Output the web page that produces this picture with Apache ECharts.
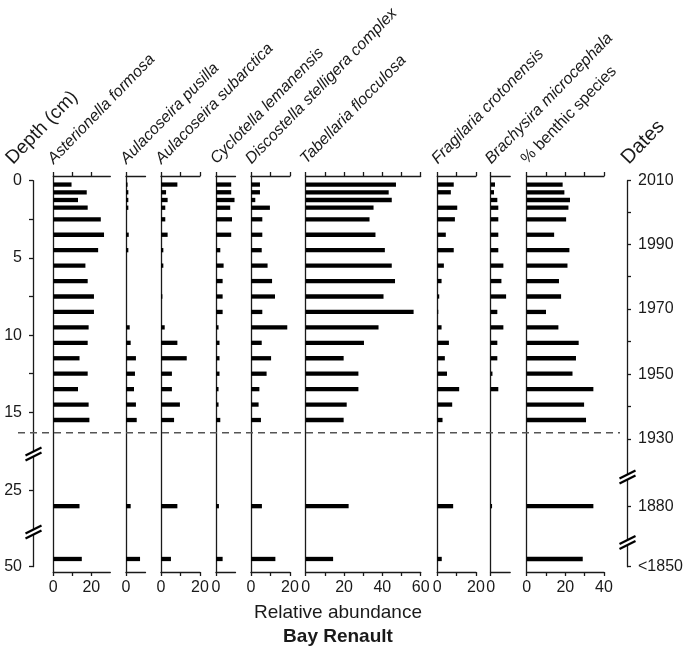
<!DOCTYPE html>
<html>
<head>
<meta charset="utf-8">
<script src="https://cdn.jsdelivr.net/npm/echarts@6/dist/echarts.min.js"></script>
<style>
  html, body { margin: 0; padding: 0; background: #fff; }
  #chart { width: 689px; height: 650px; }
</style>
</head>
<body>
<div id="chart"></div>
<script>
// sample depths (cm)
var depths = [0.25, 0.75, 1.25, 1.75, 2.5, 3.5, 4.5, 5.5, 6.5, 7.5, 8.5, 9.5, 10.5, 11.5, 12.5, 13.5, 14.5, 15.5, 26, 49.5];

// relative abundances (%)
var asterionella = [9.6, 17.6, 13, 18.1, 25, 26.7, 23.6, 16.9, 18.1, 21.4, 21.4, 18.6, 18.1, 13.8, 18.1, 13, 18.6, 19, 13.8, 15];
var pusilla = [0.8, 1.2, 1.2, 1.2, 0, 1.4, 1.2, 0, 0, 0, 0, 1.9, 2.4, 5.1, 4.6, 4.1, 5.1, 5.5, 2.4, 7.2];
var subarctica = [8.4, 2.6, 3.4, 2.2, 2.2, 3.4, 1.2, 1.2, 0, 0.7, 0, 1.9, 8.4, 13.2, 5.6, 5.6, 9.7, 6.7, 8.4, 5.1];
var cyclotella = [7.8, 7.8, 9.5, 7.3, 8.2, 7.8, 2.2, 3.9, 3.4, 3.4, 3.4, 1.3, 1.8, 1.8, 1.8, 1.3, 1.3, 2.2, 1.5, 3.4];
var discostella = [4.6, 4.6, 2.2, 9.7, 5.8, 5.8, 5.5, 8.5, 10.8, 12.3, 5.8, 18.6, 5.5, 10.3, 8.0, 4.3, 3.9, 5.1, 5.6, 12.5];
var tabellaria = [47.1, 43.3, 44.9, 35.4, 33.3, 36.4, 41.3, 44.9, 46.6, 40.6, 56.3, 38.0, 30.4, 19.8, 27.5, 27.5, 21.4, 19.8, 22.4, 14.3];
var fragilaria = [8.5, 7.0, 0, 10.3, 9.1, 4.4, 8.5, 3.4, 2.2, 1.0, 0.5, 2.2, 6.0, 3.9, 5.0, 11.3, 7.7, 2.7, 8.2, 2.3];
var brachysira = [2.2, 1.7, 3.4, 3.9, 3.9, 3.9, 3.9, 6.5, 5.5, 7.9, 3.4, 6.5, 3.4, 3.4, 0.9, 3.9, 0, 0, 0.7, 0];
var benthic = [18.6, 19.5, 22.4, 21.6, 20.4, 14.2, 22.1, 21.1, 16.7, 17.8, 10.0, 16.4, 26.9, 25.5, 23.7, 34.5, 29.7, 30.7, 34.5, 29.0];

// depth axis
var depthTicks = [0, 2.5, 5, 7.5, 10, 12.5, 15, 25, 50];
var depthLabels = [0, 5, 10, 15, 25, 50];

// dates axis
var dateNames = ['2010', '2000', '1990', '1980', '1970', '1960', '1950', '1940', '1930', '1880', '<1850'];
var dateDepths = [0, 2.05, 4.12, 6.22, 8.31, 10.43, 12.54, 14.64, 16.73, 26, 50];
var dateShown = ['2010', '1990', '1970', '1950', '1930', '1880', '<1850'];

// broken depth axis: plotted position
function plotPos(d) {
  if (d <= 17) return d;
  if (d < 40) return d - 4.92;
  return d - 25;
}
function depthAt(p) {
  if (p <= 17) return p;
  if (p <= 22.9) return p + 4.92;
  return p + 25;
}

var panels = [
  { name: 'Asterionella formosa', data: asterionella, max: 30, ticks: [0, 10, 20], labels: [0, 20], left: 53.3, width: 57, italic: true },
  { name: 'Aulacoseira pusilla', data: pusilla, max: 10, ticks: [0], labels: [0], left: 126, width: 19.5, italic: true },
  { name: 'Aulacoseira subarctica', data: subarctica, max: 20, ticks: [0, 10, 20], labels: [0, 20], left: 161, width: 39, italic: true },
  { name: 'Cyclotella lemanensis', data: cyclotella, max: 10, ticks: [0], labels: [0], left: 216, width: 19.5, italic: true },
  { name: 'Discostella stelligera complex', data: discostella, max: 20, ticks: [0, 10, 20], labels: [0, 20], left: 251, width: 39, italic: true },
  { name: 'Tabellaria flocculosa', data: tabellaria, max: 60, ticks: [0, 10, 20, 30, 40, 50, 60], labels: [0, 20, 40, 60], left: 305.7, width: 115, italic: true },
  { name: 'Fragilaria crotonensis', data: fragilaria, max: 20, ticks: [0, 10, 20], labels: [0, 20], left: 437.3, width: 38.7, italic: true },
  { name: 'Brachysira microcephala', data: brachysira, max: 10, ticks: [0], labels: [0], left: 490.7, width: 19.5, italic: true },
  { name: '% benthic species', data: benthic, max: 40, ticks: [0, 10, 20, 30, 40], labels: [0, 20, 40], left: 526.7, width: 77.3, italic: false }
];

var INK = '#1a1a1a';
var FONT = 'Liberation Sans, Arial, sans-serif';
var Y0 = 180.7, S = 15.44;            // pixel of depth 0, px per cm
var TOP = 176, BOT = 572;             // panel frame
var BAR_H = 4.3;
var ROT = 0.8;

var chart = echarts.init(document.getElementById('chart'));

var grids = [], xAxes = [], yAxes = [], series = [], graphics = [];
var lineStyle = { color: INK, width: 1.3 };

panels.forEach(function (p, i) {
  grids.push({ left: p.left, width: p.width, top: TOP, height: BOT - TOP });
  xAxes.push({
    gridIndex: i, type: 'value', min: 0, max: p.max, position: 'bottom',
    axisLine: { show: true, onZero: false, lineStyle: lineStyle },
    axisTick: { show: true, length: 4, customValues: p.ticks, lineStyle: lineStyle },
    axisLabel: { customValues: p.labels, fontSize: 16, fontFamily: FONT, color: INK, margin: 8 },
    splitLine: { show: false }
  });
  xAxes.push({
    gridIndex: i, type: 'value', min: 0, max: p.max, position: 'top',
    axisLine: { show: true, onZero: false, lineStyle: lineStyle },
    axisTick: { show: true, length: 4, customValues: p.ticks, lineStyle: lineStyle },
    axisLabel: { show: false },
    splitLine: { show: false }
  });
  yAxes.push({
    gridIndex: i, type: 'value', inverse: true,
    min: (TOP - Y0) / S, max: (BOT - Y0) / S,
    axisLine: { show: true, onZero: false, lineStyle: lineStyle },
    axisTick: { show: false }, axisLabel: { show: false }, splitLine: { show: false }
  });
  series.push({
    type: 'custom', xAxisIndex: 2 * i, yAxisIndex: i, silent: true,
    data: depths.map(function (d, j) { return [p.data[j], plotPos(d)]; }),
    encode: { x: 0, y: 1 },
    renderItem: function (params, api) {
      var a = api.coord([0, api.value(1)]);
      var b = api.coord([api.value(0), api.value(1)]);
      return {
        type: 'rect',
        shape: { x: a[0], y: a[1] - BAR_H / 2, width: b[0] - a[0], height: BAR_H },
        style: { fill: '#000' }
      };
    }
  });
  graphics.push({
    type: 'text', x: p.left + 3, y: 167, rotation: ROT,
    style: {
      text: p.name, fill: INK, textAlign: 'left', textVerticalAlign: 'bottom',
      font: (p.italic ? 'italic ' : '') + '16px ' + FONT
    }
  });
});

// depth axis (left)
var gDepth = grids.length;
grids.push({ left: 33, width: 10, top: Y0, height: 25 * S });
xAxes.push({ gridIndex: gDepth, type: 'value', show: false });
yAxes.push({
  gridIndex: gDepth, type: 'value', inverse: true, min: 0, max: 25, position: 'left',
  axisLine: { show: true, onZero: false, lineStyle: lineStyle },
  axisTick: { show: true, length: 4, customValues: depthTicks.map(plotPos), lineStyle: lineStyle },
  axisLabel: {
    customValues: depthLabels.map(plotPos), fontSize: 16, fontFamily: FONT, color: INK, margin: 11,
    formatter: function (v) { return String(Math.round(depthAt(v))); }
  },
  splitLine: { show: false }
});

// dates axis (right)
var gDate = grids.length;
grids.push({ left: 617, width: 10, top: Y0, height: 25 * S });
xAxes.push({ gridIndex: gDate, type: 'value', show: false });
yAxes.push({
  gridIndex: gDate, type: 'value', inverse: true, min: 0, max: 25, position: 'right',
  axisLine: { show: true, onZero: false, lineStyle: lineStyle },
  axisTick: { show: true, length: 4, customValues: dateDepths.map(plotPos), lineStyle: lineStyle },
  axisLabel: {
    customValues: dateDepths.filter(function (d, k) { return dateShown.indexOf(dateNames[k]) >= 0; }).map(plotPos),
    fontSize: 16, fontFamily: FONT, color: INK, margin: 11,
    formatter: function (v) {
      var best = 0;
      dateDepths.forEach(function (d, k) {
        if (Math.abs(plotPos(d) - v) < Math.abs(plotPos(dateDepths[best]) - v)) best = k;
      });
      return dateNames[best];
    }
  },
  splitLine: { show: false }
});

graphics.push({
  type: 'text', x: 16, y: 168, rotation: ROT,
  style: { text: 'Depth (cm)', fill: INK, textAlign: 'left', textVerticalAlign: 'bottom', font: '19px ' + FONT }
});
graphics.push({
  type: 'text', x: 632, y: 168, rotation: ROT,
  style: { text: 'Dates', fill: INK, textAlign: 'left', textVerticalAlign: 'bottom', font: '20px ' + FONT }
});
graphics.push({
  type: 'text', x: 338, y: 613,
  style: { text: 'Relative abundance', fill: INK, textAlign: 'center', textVerticalAlign: 'middle', font: '19px ' + FONT }
});
graphics.push({
  type: 'text', x: 338, y: 637,
  style: { text: 'Bay Renault', fill: INK, textAlign: 'center', textVerticalAlign: 'middle', font: 'bold 19px ' + FONT }
});

chart.setOption({
  animation: false,
  backgroundColor: '#fff',
  grid: grids,
  xAxis: xAxes,
  yAxis: yAxes,
  series: series,
  graphic: graphics
});

// dashed 1930 line and axis break marks
var DASH_P = 16.32;
var leftBreaks = [17.7, 22.75];
var rightBreaks = [19.19, 23.43];

function yPix(p) { return chart.convertToPixel({ gridIndex: gDepth }, [0, p])[1]; }
var extra = [];
extra.push({
  type: 'line', z: 50,
  shape: { x1: 18, y1: yPix(DASH_P), x2: 620, y2: yPix(DASH_P) },
  style: { stroke: '#555', lineWidth: 1.5, lineDash: [7, 5] }
});
function breakMark(cx, cy) {
  extra.push({
    type: 'polygon', z: 60,
    shape: { points: [[cx - 8, cy + 6.5], [cx + 8, cy - 1.5], [cx + 8, cy - 6.5], [cx - 8, cy + 1.5]] },
    style: { fill: '#fff' }
  });
  extra.push({ type: 'line', z: 61, shape: { x1: cx - 8, y1: cy + 6.5, x2: cx + 8, y2: cy - 1.5 }, style: { stroke: '#000', lineWidth: 2.2 } });
  extra.push({ type: 'line', z: 61, shape: { x1: cx - 8, y1: cy + 1.5, x2: cx + 8, y2: cy - 6.5 }, style: { stroke: '#000', lineWidth: 2.2 } });
}
leftBreaks.forEach(function (p) { breakMark(33.5, yPix(p)); });
rightBreaks.forEach(function (p) { breakMark(627.5, yPix(p)); });

chart.setOption({ graphic: graphics.concat(extra) });
</script>
</body>
</html>
